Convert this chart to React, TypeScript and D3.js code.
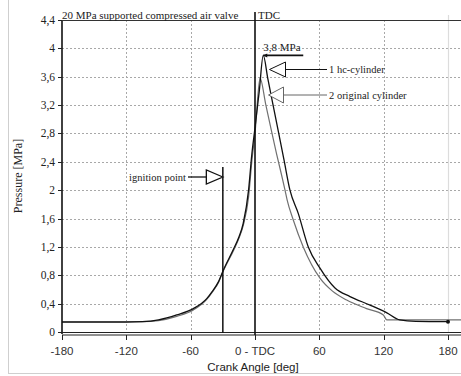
import React from "react";
import * as d3 from "d3";

const W = 461;
const H = 376;

const angleHc = [-180, -150, -120, -105, -90, -73, -57.5, -45, -40, -34, -29.6, -20, -15, -11, -6, -3, 0, 4, 7.7, 12, 17, 22, 27, 32.6, 40.4, 49.7, 60.6, 74.6, 88.6, 107.3, 123, 135, 150, 180];
const pressureHc = [0.14, 0.14, 0.14, 0.145, 0.17, 0.24, 0.33, 0.47, 0.57, 0.71, 0.87, 1.17, 1.34, 1.53, 2.0, 2.5, 2.88, 3.4, 3.9, 3.57, 3.19, 2.81, 2.43, 2.0, 1.67, 1.2, 0.9, 0.62, 0.5, 0.38, 0.27, 0.17, 0.15, 0.145];

const angleOrig = [-180, -150, -120, -105, -90, -73, -57.5, -45, -40, -34, -29.6, -20, -15, -11, -6, -3, 0, 4.7, 10, 15, 20, 25, 28, 30, 35.7, 45, 60.6, 72, 85.5, 104, 119.7, 123, 150, 180, 195];
const pressureOrig = [0.145, 0.145, 0.145, 0.145, 0.16, 0.22, 0.31, 0.46, 0.56, 0.7, 0.86, 1.15, 1.32, 1.5, 1.9, 2.4, 2.8, 3.58, 3.21, 2.86, 2.52, 2.2, 2.0, 1.86, 1.58, 1.2, 0.76, 0.58, 0.45, 0.33, 0.24, 0.17, 0.17, 0.17, 0.17];

const xTicks = [-180, -120, -60, 0, 60, 120, 180];
const xTickLabels = ["-180", "-120", "-60", "0 - TDC", "60", "120", "180"];
const yTicks = [0, 0.4, 0.8, 1.2, 1.6, 2, 2.4, 2.8, 3.2, 3.6, 4, 4.4];
const yTickLabels = ["0", "0,4", "0,8", "1,2", "1,6", "2", "2,4", "2,8", "3,2", "3,6", "4", "4,4"];

const titleText = "20 MPa supported compressed air valve";
const tdcText = "TDC";
const peakText = "3,8 MPa";
const ignitionText = "ignition point";
const ignitionAngle = -30;
const legend1 = "1 hc-cylinder";
const legend2 = "2 original cylinder";
const xTitle = "Crank Angle [deg]";
const yTitle = "Pressure [MPa]";

const serif = "'Liberation Serif', 'Times New Roman', serif";
const sans = "'Liberation Sans', Arial, sans-serif";

export default function App() {
  const x = d3.scaleLinear().domain([-180, 180]).range([62, 448]);
  const y = d3.scaleLinear().domain([0, 4.4]).range([332, 20]);
  const left = 62;
  const top = 20;
  const bottom = 332;

  const line = d3
    .line<number>()
    .x((d) => d)
    .y((d) => d)
    .curve(d3.curveMonotoneX);

  const mk = (ax: number[], py: number[]) =>
    d3
      .line<number>()
      .x((_, i) => x(ax[i]))
      .y((_, i) => y(py[i]))
      .curve(d3.curveMonotoneX)(ax) as string;

  const pathHc = mk(angleHc, pressureHc);
  const pathOrig = mk(angleOrig, pressureOrig);
  void line;

  const peakX = x(7.7);
  const peakY = y(3.9);
  const ignX = x(ignitionAngle);
  const ignArrowY = 177;

  const tri1 = { tx: 269.5, ty: 69.5 };
  const tri2 = { tx: 268.5, ty: 95 };

  return (
    <svg
      width={W}
      height={H}
      style={{ position: "absolute", left: 0, top: 0, background: "#fff" }}
    >
      <rect x={0} y={0} width={W} height={H} fill="#fff" />
      {/* outer light frame */}
      <line x1={8.5} y1={0} x2={8.5} y2={373} stroke="#cfcfcf" strokeWidth={1} />
      <line x1={8} y1={373.5} x2={W} y2={373.5} stroke="#cfcfcf" strokeWidth={1} />

      {/* gridlines */}
      {yTicks
        .filter((t) => t > 0 && t < 4.4)
        .map((t) => (
          <line
            key={"gy" + t}
            x1={left}
            x2={W}
            y1={Math.round(y(t)) + 0.5}
            y2={Math.round(y(t)) + 0.5}
            stroke="#a8a8a8"
            strokeWidth={1}
            strokeDasharray="2,2"
          />
        ))}
      {xTicks
        .filter((t) => t !== -180 && t !== 0 && t !== 180)
        .map((t) => (
          <line
            key={"gx" + t}
            x1={Math.round(x(t)) + 0.5}
            x2={Math.round(x(t)) + 0.5}
            y1={top}
            y2={bottom}
            stroke="#a8a8a8"
            strokeWidth={1}
            strokeDasharray="2,2"
          />
        ))}
      <line x1={Math.round(x(180)) + 0.5} x2={Math.round(x(180)) + 0.5} y1={15} y2={bottom} stroke="#dcdcdc" strokeWidth={1.2} />

      {/* curves */}
      <path d={pathOrig} fill="none" stroke="#707070" strokeWidth={1.2} />
      <path d={pathHc} fill="none" stroke="#111" strokeWidth={1.3} />
      <circle cx={x(180)} cy={y(0.145)} r={2} fill="#111" />

      {/* axes */}
      <line x1={left} y1={top} x2={left} y2={bottom + 2} stroke="#111" strokeWidth={1.6} />
      <line x1={left} y1={top + 0.5} x2={W} y2={top + 0.5} stroke="#333" strokeWidth={1.2} />
      <line x1={left} y1={bottom + 0.5} x2={W} y2={bottom + 0.5} stroke="#222" strokeWidth={1} />
      <line x1={left} y1={bottom + 3} x2={W} y2={bottom + 3} stroke="#222" strokeWidth={1} />
      {xTicks.map((t, i) => (
        <g key={"xt" + t}>
          <line
            x1={Math.round(x(t)) + 0.5}
            x2={Math.round(x(t)) + 0.5}
            y1={bottom + 3}
            y2={bottom + 8}
            stroke="#222"
            strokeWidth={1}
          />
          <text
            x={x(t)}
            y={355}
            textAnchor="middle"
            fontFamily={sans}
            fontSize={11.5}
            fill="#333"
          >
            {xTickLabels[i]}
          </text>
        </g>
      ))}
      {yTicks.map((t, i) => (
        <g key={"yt" + t}>
          <line x1={left - 4} x2={left} y1={Math.round(y(t)) + 0.5} y2={Math.round(y(t)) + 0.5} stroke="#222" strokeWidth={1} />
          <text
            x={55}
            y={y(t) + 4}
            textAnchor="end"
            fontFamily={serif}
            fontSize={11.5}
            fill="#222"
          >
            {yTickLabels[i]}
          </text>
        </g>
      ))}

      {/* axis titles */}
      <text x={253} y={371} textAnchor="middle" fontFamily={sans} fontSize={11.5} fill="#222">
        {xTitle}
      </text>
      <text
        transform="translate(22,176) rotate(-90)"
        textAnchor="middle"
        fontFamily={serif}
        fontSize={12}
        fill="#222"
      >
        {yTitle}
      </text>

      {/* top title and TDC */}
      <text x={62} y={18.5} fontFamily={serif} fontSize={11} fill="#222">
        {titleText}
      </text>
      <line x1={x(0)} x2={x(0)} y1={12} y2={bottom + 3} stroke="#111" strokeWidth={1.6} />
      <text x={x(0) + 3} y={18.5} fontFamily={serif} fontSize={11} fill="#222">
        {tdcText}
      </text>

      {/* peak annotation */}
      <line x1={peakX} x2={peakX + 40} y1={peakY} y2={peakY} stroke="#111" strokeWidth={1.8} />
      <path d={`M${peakX},${peakY} l4,-2 l0,4 z`} fill="#111" />
      <text x={peakX} y={peakY - 4} fontFamily={serif} fontSize={11} fill="#222">
        {peakText}
      </text>

      {/* legend 1 */}
      <path
        d={`M${tri1.tx},${tri1.ty} L${tri1.tx + 16},${tri1.ty - 7.5} L${tri1.tx + 16},${tri1.ty + 7.5} Z`}
        fill="#fff"
        stroke="#111"
        strokeWidth={1}
      />
      <line x1={tri1.tx + 16} x2={327} y1={tri1.ty} y2={tri1.ty} stroke="#111" strokeWidth={1} />
      <text x={329} y={tri1.ty + 3.5} fontFamily={serif} fontSize={10.5} fill="#222">
        {legend1}
      </text>

      {/* legend 2 */}
      <path
        d={`M${tri2.tx},${tri2.ty} L${tri2.tx + 15},${tri2.ty - 8} L${tri2.tx + 15},${tri2.ty + 8} Z`}
        fill="#fff"
        stroke="#666"
        strokeWidth={1}
      />
      <line x1={tri2.tx + 15} x2={327} y1={tri2.ty} y2={tri2.ty} stroke="#666" strokeWidth={1} />
      <text x={329} y={tri2.ty + 3.5} fontFamily={serif} fontSize={10.5} fill="#222">
        {legend2}
      </text>

      {/* ignition */}
      <line x1={ignX} x2={ignX} y1={167} y2={bottom + 1} stroke="#111" strokeWidth={1.5} />
      <path
        d={`M${ignX},${ignArrowY} L${ignX - 16.5},${ignArrowY - 7} L${ignX - 16.5},${ignArrowY + 7} Z`}
        fill="#fff"
        stroke="#111"
        strokeWidth={1.3}
      />
      <line x1={ignX - 16.5} x2={188} y1={ignArrowY} y2={ignArrowY} stroke="#111" strokeWidth={1.3} />
      <text x={186} y={ignArrowY + 3.5} textAnchor="end" fontFamily={serif} fontSize={10.5} fill="#222">
        {ignitionText}
      </text>
    </svg>
  );
}
